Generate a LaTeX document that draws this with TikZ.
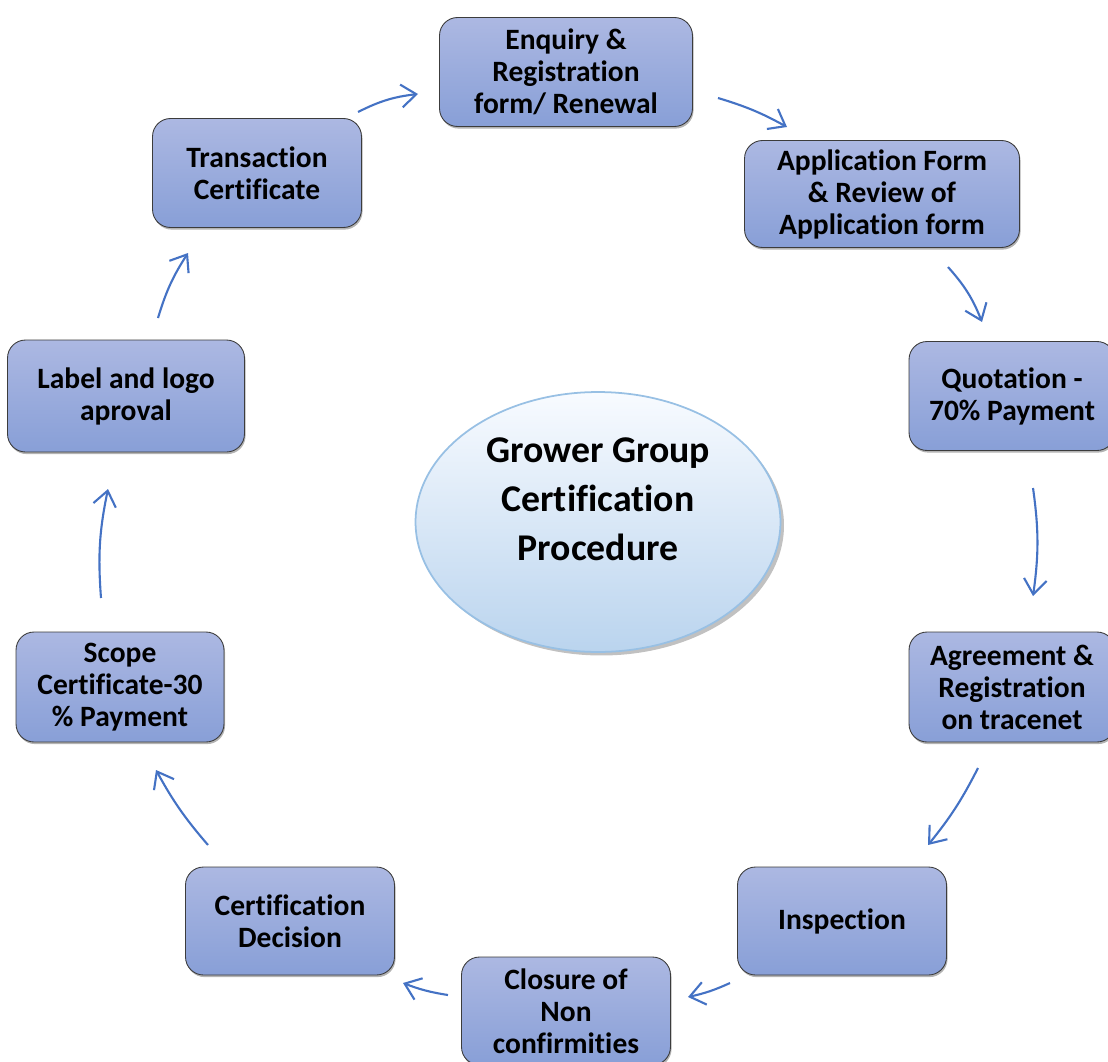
\documentclass[tikz,border=0pt]{standalone}
\usepackage{fontspec}
\setmainfont[Ligatures=CommonOff]{Carlito}
\usepackage{tikz}
\usetikzlibrary{arrows.meta, shapes.geometric, shadows}

\definecolor{boxtop}{RGB}{172,184,226}
\definecolor{boxbottom}{RGB}{136,159,215}
\definecolor{boxline}{RGB}{60,60,60}
\definecolor{flowblue}{RGB}{68,114,196}
\definecolor{hubtop}{RGB}{248,251,255}
\definecolor{hubbottom}{RGB}{186,212,238}
\definecolor{hubline}{RGB}{152,192,228}

\begin{document}
\begin{tikzpicture}[x=0.02cm, y=-0.02cm,
  stage node/.style={rectangle, rounded corners=0.36cm, draw=boxline, line width=0.5pt,
    top color=boxtop, bottom color=boxbottom, align=center, inner sep=2pt,
    minimum width=4.18cm, minimum height=2.16cm,
    drop shadow={shadow xshift=0.6pt, shadow yshift=-1.2pt, opacity=0.6},
    font=\fontsize{16.8}{18.2}\selectfont\bfseries},
  centre node/.style={ellipse, draw=hubline, line width=1pt, top color=hubtop,
    bottom color=hubbottom, minimum width=7.3cm, minimum height=5.2cm, inner sep=0pt,
    drop shadow={shadow xshift=2pt, shadow yshift=-2pt, fill=gray!70, opacity=0.7}},
  centre text/.style={align=center, font=\fontsize{21.5}{27.8}\selectfont\bfseries},
  flow/.style={draw=flowblue, line width=1.2pt, -{Straight Barb[length=8.5pt, width=13pt]}}]

    \clip (0,0) rectangle (1108,1061);
    \useasboundingbox (0,0) rectangle (1108,1061);

    \node[centre node] (hub) at (598,522) {};
    \node[centre text] (hubtxt) at (598,499) {Grower Group\\Certification\\Procedure};

    \node[stage node, minimum width=5.06cm, minimum height=2.18cm] (enq) at (566,72) {Enquiry \&\\Registration\\form/ Renewal};
    \node[stage node, minimum width=5.5cm, minimum height=2.14cm] (app) at (882,194) {Application Form\\\& Review of\\Application form};
    \node[stage node, minimum width=4.12cm, minimum height=2.18cm] (quot) at (1012,396) {Quotation -\\70\% Payment};
    \node[stage node, minimum width=4.12cm, minimum height=2.2cm] (agr) at (1012,687) {Agreement \&\\Registration\\on tracenet};
    \node[stage node] (insp) at (842,921) {Inspection};
    \node[stage node] (clos) at (566,1011) {Closure of\\Non\\confirmities};
    \node[stage node] (dec) at (290,921) {Certification\\Decision};
    \node[stage node, minimum width=4.16cm, minimum height=2.2cm] (scope) at (120,687) {Scope\\Certificate-30\\\% Payment};
    \node[stage node, minimum width=4.74cm, minimum height=2.24cm] (label) at (126,396) {Label and logo\\aproval};
    \node[stage node, minimum height=2.18cm] (trans) at (257,173) {Transaction\\Certificate};

    \draw[flow] ([shift={(101,-61)}]trans.center) to[bend left=10] ([shift={(-148,22)}]enq.center);
    \draw[flow] ([shift={(152,26)}]enq.center) to[bend left=6] ([shift={(-95,-67)}]app.center);
    \draw[flow] ([shift={(66,73)}]app.center) to[bend left=10] ([shift={(-30,-74)}]quot.center);
    \draw[flow] ([shift={(21,92)}]quot.center) to[bend left=8] ([shift={(21,-91)}]agr.center);
    \draw[flow] ([shift={(-34,81)}]agr.center) to[bend left=6] ([shift={(86,-76)}]insp.center);
    \draw[flow] ([shift={(-112,62)}]insp.center) to[bend left=6] ([shift={(122,-14)}]clos.center);
    \draw[flow] ([shift={(-118,-16)}]clos.center) to[bend left=6] ([shift={(113,62)}]dec.center);
    \draw[flow] ([shift={(-82,-76)}]dec.center) to[bend left=6] ([shift={(36,83)}]scope.center);
    \draw[flow] ([shift={(-19,-89)}]scope.center) to[bend left=8] ([shift={(-18,93)}]label.center);
    \draw[flow] ([shift={(32,-78)}]label.center) to[bend left=8] ([shift={(-69,80)}]trans.center);
\end{tikzpicture}
\end{document}
